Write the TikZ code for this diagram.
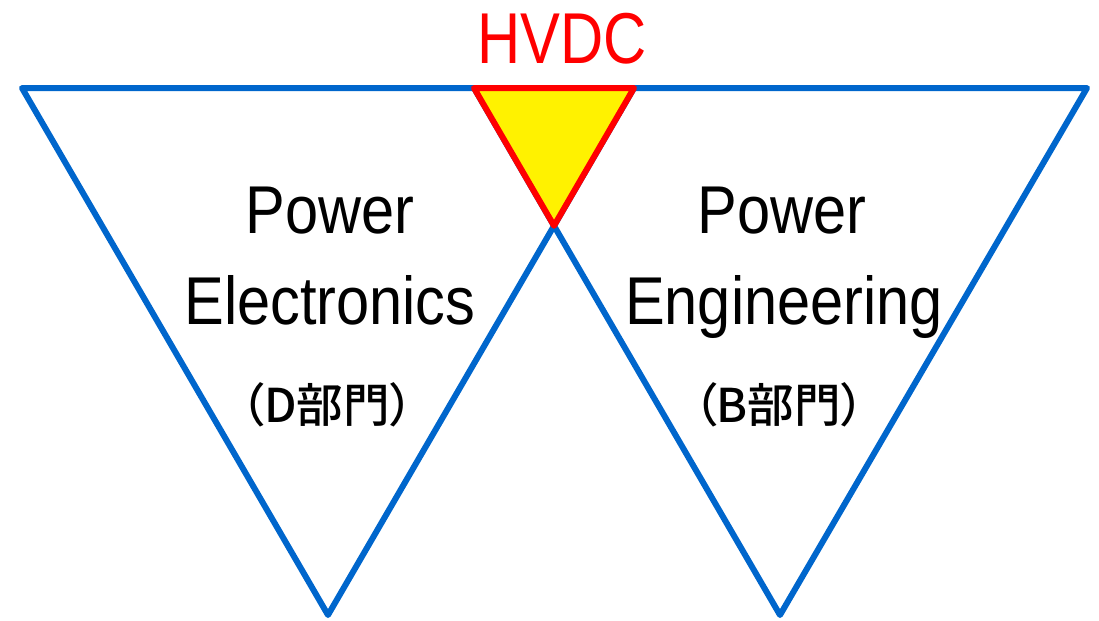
\documentclass[tikz,border=0pt]{standalone}
\usepackage{fontspec}
\setmainfont[FakeStretch=0.88]{Liberation Sans}
\newfontfamily\hvdcfont[FakeStretch=0.83]{Liberation Sans}
\newfontfamily\jpfont[RawFeature=+palt,UprightFont=* Medium]{Noto Sans CJK JP}
\usetikzlibrary{positioning}
\definecolor{triblue}{RGB}{0,102,204}

\tikzset{
  tri/.style={draw=triblue,line width=0.12cm,line join=round},
  core/.style={draw=red,fill=yellow,line width=0.12cm,line join=round},
  title/.style={font=\fontsize{38.5}{40}\selectfont,anchor=base,inner sep=0pt},
  dept/.style={font=\jpfont\fontsize{26.5}{27}\selectfont,anchor=base,inner sep=0pt}
}

\begin{document}
\begin{tikzpicture}[x=0.02cm,y=-0.02cm]
  \useasboundingbox (0,0) rectangle (1099,620);
  % triangles
  \coordinate (la) at (22,88);
  \coordinate (lb) at (634,88);
  \coordinate (lc) at (328,615);
  \coordinate (ra) at (474,88);
  \coordinate (rb) at (1087,88);
  \coordinate (rc) at (780,615);
  \coordinate (mid) at (intersection of lb--lc and ra--rc);
  \draw[tri] (la) -- (lb) -- (lc) -- cycle;
  \draw[tri] (ra) -- (rb) -- (rc) -- cycle;
  \draw[core] (ra) -- (lb) -- (mid) -- cycle;
  % labels
  \node[title,text=red,font=\hvdcfont\fontsize{41}{42}\selectfont] (hvdc) at (562,63) {HVDC};
  \node[title] (pe1) at (330,233) {Power};
  \node[title] (pe2) at (330,324) {Electronics};
  \node[dept] (ped) at (327,422) {（D部門）};
  \node[title] (pg1) at (782,233) {Power};
  \node[title] (pg2) at (784,324) {Engineering};
  \node[dept] (pgd) at (779,422) {（B部門）};
\end{tikzpicture}
\end{document}
